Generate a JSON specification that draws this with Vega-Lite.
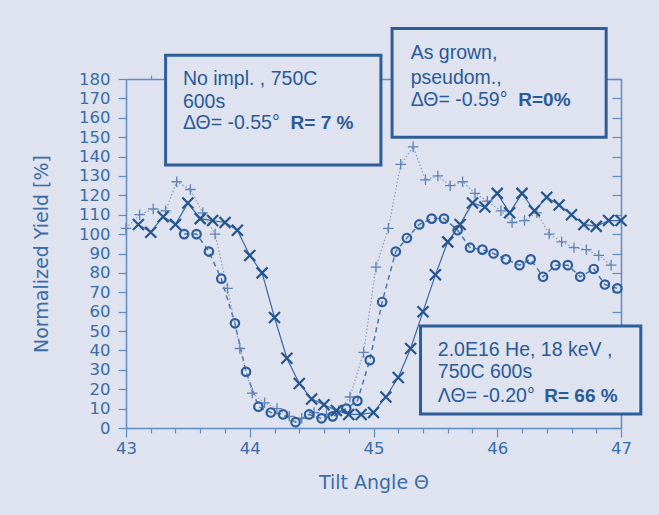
{
  "$schema": "https://vega.github.io/schema/vega-lite/v6.json",
  "autosize": {"type": "none"},
  "width": 495,
  "height": 349,
  "padding": {"left": 126, "top": 79, "right": 38, "bottom": 87},
  "background": "#dfe3ef",
  "config": {
    "view": {"stroke": null},
    "axis": {
      "domainColor": "#5f8cc4",
      "tickColor": "#5f8cc4",
      "labelColor": "#3a6ca8",
      "titleColor": "#3a6ca8",
      "labelFont": "DejaVu Sans",
      "titleFont": "DejaVu Sans",
      "labelFontSize": 16.5,
      "titleFontSize": 19,
      "titleFontWeight": "normal",
      "grid": false,
      "domainWidth": 1.5,
      "tickWidth": 1.2
    }
  },
  "datasets": {
    "pts": [
      {"s": "o", "x": 43.47, "y": 100}, {"s": "o", "x": 43.57, "y": 100}, {"s": "o", "x": 43.67, "y": 91},
      {"s": "o", "x": 43.77, "y": 77}, {"s": "o", "x": 43.88, "y": 54}, {"s": "o", "x": 43.97, "y": 29},
      {"s": "o", "x": 44.07, "y": 11}, {"s": "o", "x": 44.17, "y": 8}, {"s": "o", "x": 44.27, "y": 7},
      {"s": "o", "x": 44.37, "y": 3}, {"s": "o", "x": 44.48, "y": 7}, {"s": "o", "x": 44.58, "y": 5},
      {"s": "o", "x": 44.67, "y": 6}, {"s": "o", "x": 44.78, "y": 10}, {"s": "o", "x": 44.87, "y": 14},
      {"s": "o", "x": 44.97, "y": 35}, {"s": "o", "x": 45.07, "y": 65}, {"s": "o", "x": 45.18, "y": 91},
      {"s": "o", "x": 45.27, "y": 98}, {"s": "o", "x": 45.37, "y": 105}, {"s": "o", "x": 45.47, "y": 108},
      {"s": "o", "x": 45.57, "y": 108}, {"s": "o", "x": 45.68, "y": 102}, {"s": "o", "x": 45.78, "y": 93},
      {"s": "o", "x": 45.88, "y": 92}, {"s": "o", "x": 45.97, "y": 90}, {"s": "o", "x": 46.07, "y": 87},
      {"s": "o", "x": 46.18, "y": 84}, {"s": "o", "x": 46.27, "y": 87}, {"s": "o", "x": 46.37, "y": 78},
      {"s": "o", "x": 46.47, "y": 84}, {"s": "o", "x": 46.57, "y": 84}, {"s": "o", "x": 46.67, "y": 78},
      {"s": "o", "x": 46.78, "y": 82}, {"s": "o", "x": 46.87, "y": 74}, {"s": "o", "x": 46.97, "y": 72},
      {"s": "p", "x": 43.0, "y": 103}, {"s": "p", "x": 43.11, "y": 110}, {"s": "p", "x": 43.22, "y": 113},
      {"s": "p", "x": 43.32, "y": 112}, {"s": "p", "x": 43.41, "y": 127}, {"s": "p", "x": 43.52, "y": 123},
      {"s": "p", "x": 43.62, "y": 111}, {"s": "p", "x": 43.72, "y": 100}, {"s": "p", "x": 43.82, "y": 72},
      {"s": "p", "x": 43.92, "y": 41}, {"s": "p", "x": 44.02, "y": 18}, {"s": "p", "x": 44.12, "y": 13},
      {"s": "p", "x": 44.22, "y": 10}, {"s": "p", "x": 44.32, "y": 6}, {"s": "p", "x": 44.42, "y": 5},
      {"s": "p", "x": 44.52, "y": 8}, {"s": "p", "x": 44.62, "y": 7}, {"s": "p", "x": 44.72, "y": 9},
      {"s": "p", "x": 44.81, "y": 16}, {"s": "p", "x": 44.92, "y": 39}, {"s": "p", "x": 45.02, "y": 83},
      {"s": "p", "x": 45.12, "y": 103}, {"s": "p", "x": 45.22, "y": 136}, {"s": "p", "x": 45.32, "y": 145},
      {"s": "p", "x": 45.42, "y": 128}, {"s": "p", "x": 45.52, "y": 130}, {"s": "p", "x": 45.62, "y": 125},
      {"s": "p", "x": 45.72, "y": 127}, {"s": "p", "x": 45.82, "y": 121}, {"s": "p", "x": 45.92, "y": 117},
      {"s": "p", "x": 46.03, "y": 112}, {"s": "p", "x": 46.12, "y": 106}, {"s": "p", "x": 46.22, "y": 107},
      {"s": "p", "x": 46.32, "y": 111}, {"s": "p", "x": 46.42, "y": 100}, {"s": "p", "x": 46.52, "y": 96},
      {"s": "p", "x": 46.62, "y": 93}, {"s": "p", "x": 46.72, "y": 92}, {"s": "p", "x": 46.82, "y": 89},
      {"s": "p", "x": 46.92, "y": 84},
      {"s": "x", "x": 43.1, "y": 105}, {"s": "x", "x": 43.2, "y": 101}, {"s": "x", "x": 43.3, "y": 109},
      {"s": "x", "x": 43.4, "y": 105}, {"s": "x", "x": 43.5, "y": 116}, {"s": "x", "x": 43.6, "y": 108},
      {"s": "x", "x": 43.7, "y": 107}, {"s": "x", "x": 43.8, "y": 106}, {"s": "x", "x": 43.9, "y": 102},
      {"s": "x", "x": 44.0, "y": 89}, {"s": "x", "x": 44.1, "y": 80}, {"s": "x", "x": 44.2, "y": 57},
      {"s": "x", "x": 44.3, "y": 36}, {"s": "x", "x": 44.4, "y": 23}, {"s": "x", "x": 44.5, "y": 15},
      {"s": "x", "x": 44.6, "y": 12}, {"s": "x", "x": 44.7, "y": 9}, {"s": "x", "x": 44.8, "y": 7},
      {"s": "x", "x": 44.9, "y": 7}, {"s": "x", "x": 45.0, "y": 8}, {"s": "x", "x": 45.1, "y": 16},
      {"s": "x", "x": 45.2, "y": 26}, {"s": "x", "x": 45.3, "y": 41}, {"s": "x", "x": 45.4, "y": 60},
      {"s": "x", "x": 45.5, "y": 79}, {"s": "x", "x": 45.6, "y": 96}, {"s": "x", "x": 45.7, "y": 105},
      {"s": "x", "x": 45.8, "y": 116}, {"s": "x", "x": 45.9, "y": 114}, {"s": "x", "x": 46.0, "y": 121},
      {"s": "x", "x": 46.1, "y": 111}, {"s": "x", "x": 46.2, "y": 121}, {"s": "x", "x": 46.3, "y": 112},
      {"s": "x", "x": 46.4, "y": 119}, {"s": "x", "x": 46.5, "y": 115}, {"s": "x", "x": 46.6, "y": 110},
      {"s": "x", "x": 46.7, "y": 105}, {"s": "x", "x": 46.8, "y": 104}, {"s": "x", "x": 46.9, "y": 107},
      {"s": "x", "x": 47.0, "y": 107}
    ],
    "boxes": [
      {"x": 43.32, "x2": 45.06, "y": 192.3, "y2": 135.6},
      {"x": 45.15, "x2": 46.88, "y": 206, "y2": 150},
      {"x": 45.38, "x2": 47.16, "y": 52.6, "y2": 7.2}
    ],
    "labels": [
      {"x": 43.46, "y": 179.9, "t": "No impl. , 750C", "b": 0},
      {"x": 43.46, "y": 168.2, "t": "600s", "b": 0},
      {"x": 43.46, "y": 157.2, "t": "ΔΘ= -0.55°", "b": 0},
      {"x": 44.33, "y": 157.2, "t": "R= 7 %", "b": 1},
      {"x": 45.3, "y": 193.3, "t": "As grown,", "b": 0},
      {"x": 45.3, "y": 180.4, "t": "pseudom.,", "b": 0},
      {"x": 45.3, "y": 169.1, "t": "ΔΘ= -0.59°", "b": 0},
      {"x": 46.17, "y": 169.1, "t": "R=0%", "b": 1},
      {"x": 45.52, "y": 40.2, "t": "2.0E16 He, 18 keV ,", "b": 0},
      {"x": 45.52, "y": 28.9, "t": "750C 600s", "b": 0},
      {"x": 45.52, "y": 16.5, "t": "ΛΘ= -0.20°", "b": 0},
      {"x": 46.38, "y": 16.5, "t": "R= 66 %", "b": 1}
    ]
  },
  "resolve": {"axis": {"x": "independent", "y": "independent"}},
  "layer": [
    {
      "data": {"name": "pts"},
      "transform": [{"filter": "datum.s === 'o'"}],
      "mark": {"type": "line", "color": "#4a76ad", "strokeWidth": 1.5, "strokeDash": [5, 4]},
      "encoding": {
        "x": {"field": "x", "type": "quantitative", "scale": {"domain": [43, 47], "nice": false, "zero": false},
          "axis": {"orient": "bottom", "values": [43, 44, 45, 46, 47], "tickSize": 9, "labelPadding": 3, "title": "Tilt Angle Θ", "titlePadding": 17, "labelFlush": false}},
        "y": {"field": "y", "type": "quantitative", "scale": {"domain": [0, 180], "nice": false, "zero": true},
          "axis": {"orient": "left", "values": [0, 10, 20, 30, 40, 50, 60, 70, 80, 90, 100, 110, 120, 130, 140, 150, 160, 170, 180], "tickSize": 8, "labelPadding": 8, "title": "Normalized Yield [%]", "titlePadding": 27, "labelFlush": false}}
      }
    },
    {
      "data": {"name": "pts"},
      "transform": [{"filter": "datum.s === 'p'"}],
      "mark": {"type": "line", "color": "#8c9cb8", "strokeWidth": 1.2, "strokeDash": [1.5, 2]},
      "encoding": {
        "x": {"field": "x", "type": "quantitative",
          "axis": {"orient": "bottom", "values": [43.2, 43.4, 43.6, 43.8, 44.2, 44.4, 44.6, 44.8, 45.2, 45.4, 45.6, 45.8, 46.2, 46.4, 46.6, 46.8], "tickSize": 5, "labels": false, "domain": false, "title": null}},
        "y": {"field": "y", "type": "quantitative",
          "axis": {"orient": "right", "values": [0, 10, 20, 30, 40, 50, 60, 70, 80, 90, 100, 110, 120, 130, 140, 150, 160, 170, 180], "tickSize": -9, "labels": false, "title": null}}
      }
    },
    {
      "data": {"name": "pts"},
      "transform": [{"filter": "datum.s === 'x'"}],
      "mark": {"type": "line", "color": "#3a68a5", "strokeWidth": 1.2},
      "encoding": {
        "x": {"field": "x", "type": "quantitative",
          "axis": {"orient": "top", "values": [43.2, 43.4, 43.6, 43.8, 44, 44.2, 44.4, 44.6, 44.8, 45, 45.2, 45.4, 45.6, 45.8, 46, 46.2, 46.4, 46.6, 46.8], "tickSize": 4, "labels": false, "title": null}},
        "y": {"field": "y", "type": "quantitative", "axis": null}
      }
    },
    {
      "data": {"name": "pts"},
      "transform": [{"filter": "datum.s === 'p'"}],
      "mark": {"type": "point", "shape": "M-1,0L1,0M0,-1L0,1", "filled": false, "size": 110, "strokeWidth": 1.3, "color": "#5d82b5", "opacity": 1},
      "encoding": {
        "x": {"field": "x", "type": "quantitative", "axis": null},
        "y": {"field": "y", "type": "quantitative", "axis": null}
      }
    },
    {
      "data": {"name": "pts"},
      "transform": [{"filter": "datum.s === 'o'"}],
      "mark": {"type": "point", "shape": "circle", "filled": false, "size": 72, "strokeWidth": 2.2, "color": "#2b5c9c", "opacity": 1},
      "encoding": {
        "x": {"field": "x", "type": "quantitative", "axis": null},
        "y": {"field": "y", "type": "quantitative", "axis": null}
      }
    },
    {
      "data": {"name": "pts"},
      "transform": [{"filter": "datum.s === 'x'"}],
      "mark": {"type": "point", "shape": "M-1,-1L1,1M-1,1L1,-1", "filled": false, "size": 121, "strokeWidth": 2.2, "color": "#23558f", "opacity": 1},
      "encoding": {
        "x": {"field": "x", "type": "quantitative", "axis": null},
        "y": {"field": "y", "type": "quantitative", "axis": null}
      }
    },
    {
      "data": {"name": "boxes"},
      "mark": {"type": "rect", "fill": "#dfe3ef", "stroke": "#2e5d9c", "strokeWidth": 3, "clip": false},
      "encoding": {
        "x": {"field": "x", "type": "quantitative", "axis": null},
        "x2": {"field": "x2"},
        "y": {"field": "y", "type": "quantitative", "axis": null},
        "y2": {"field": "y2"}
      }
    },
    {
      "data": {"name": "labels"},
      "transform": [{"filter": "datum.b === 0"}],
      "mark": {"type": "text", "align": "left", "baseline": "middle", "font": "Liberation Sans", "fontSize": 19.5, "color": "#2a5a98", "clip": false},
      "encoding": {
        "x": {"field": "x", "type": "quantitative", "axis": null},
        "y": {"field": "y", "type": "quantitative", "axis": null},
        "text": {"field": "t"}
      }
    },
    {
      "data": {"name": "labels"},
      "transform": [{"filter": "datum.b === 1"}],
      "mark": {"type": "text", "align": "left", "baseline": "middle", "font": "Liberation Sans", "fontSize": 19, "fontWeight": "bold", "color": "#2a5a98", "clip": false},
      "encoding": {
        "x": {"field": "x", "type": "quantitative", "axis": null},
        "y": {"field": "y", "type": "quantitative", "axis": null},
        "text": {"field": "t"}
      }
    }
  ]
}
